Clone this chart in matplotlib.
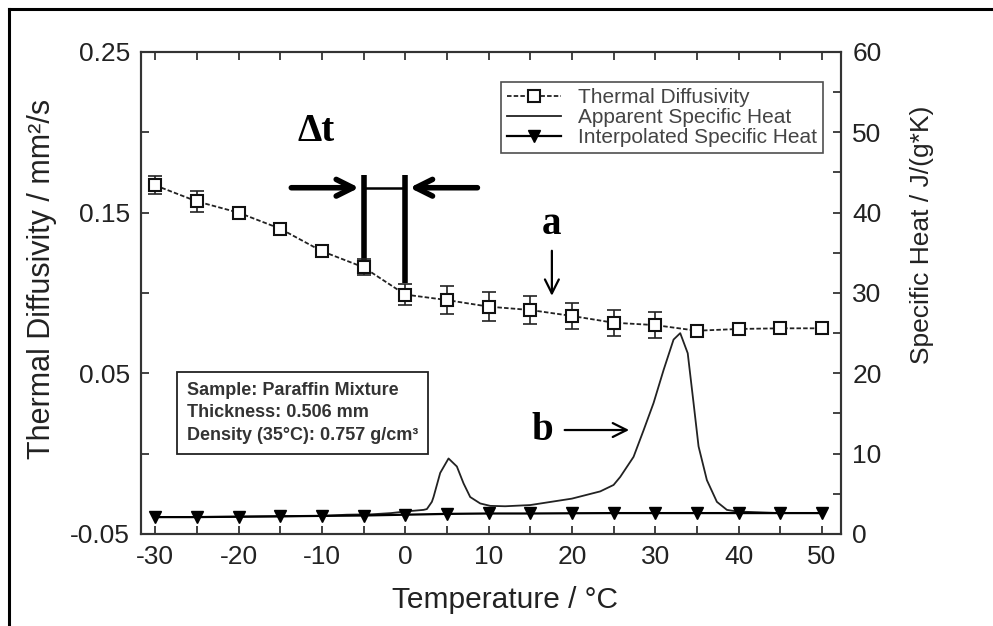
import numpy as np
import matplotlib
matplotlib.use("Agg")
import matplotlib.pyplot as plt
from matplotlib.lines import Line2D

plt.rcParams['font.family'] = ['Liberation Sans', 'DejaVu Sans']

# thermal diffusivity (left axis), mm^2/s
temp = [-30, -25, -20, -15, -10, -5, 0, 5, 10, 15, 20, 25, 30, 35, 40, 45, 50]
diffusivity = [0.167, 0.157, 0.150, 0.140, 0.126, 0.116, 0.099, 0.0956, 0.0915,
               0.0894, 0.0857, 0.0815, 0.080, 0.0765, 0.0776, 0.078, 0.078]
diff_err = [0.0057, 0.0065, 0.002, 0.002, 0.002, 0.005, 0.0065, 0.009, 0.009,
            0.009, 0.008, 0.008, 0.008, 0.0, 0.0, 0.0, 0.0]

# interpolated specific heat (right axis), J/(g*K)
interp_cp = [2.1, 2.1, 2.15, 2.2, 2.25, 2.3, 2.4, 2.5, 2.55, 2.55, 2.58, 2.6,
             2.6, 2.6, 2.6, 2.6, 2.6]

# apparent specific heat from DSC
dsc_t = [-30, -20, -10, -7, -4, -1.7, 0, 2.2, 2.6, 3.2, 3.4, 4.2, 5.2, 6.2, 7.0,
         7.8, 9.0, 10.2, 12, 15, 20, 23.4, 25.0, 25.8, 27.4, 28.6, 29.8, 31.0,
         32.2, 33.0, 33.9, 34.6, 35.2, 36.2, 37.4, 38.6, 39.8, 45, 50]
dsc_cp = [2.1, 2.15, 2.25, 2.4, 2.45, 2.6, 2.8, 3.0, 3.1, 4.0, 4.6, 7.6, 9.4, 8.4,
          6.3, 4.6, 3.8, 3.5, 3.45, 3.6, 4.4, 5.3, 6.1, 7.1, 9.6, 12.9, 16.3, 20.4,
          24.2, 25.0, 22.5, 16.3, 10.9, 6.7, 4.0, 3.0, 2.8, 2.6, 2.6]

fig = plt.figure(figsize=(9.93, 6.26), dpi=100)
ax = fig.add_axes([0.142, 0.147, 0.705, 0.770])
ax2 = ax.twinx()

# left axis: diffusivity
ax.errorbar(temp, diffusivity, yerr=diff_err, fmt='none', ecolor='#222222',
            elinewidth=1.2, capsize=5, capthick=1.2, zorder=3)
l1, = ax.plot(temp, diffusivity, linestyle=(0, (2.5, 1.2)), color='#222222', lw=1.3,
              marker='s', markersize=8.5, markerfacecolor='white',
              markeredgecolor='#111111', markeredgewidth=1.5, zorder=4)

# right axis: specific heat
l2, = ax2.plot(dsc_t, dsc_cp, color='#222222', lw=1.3, zorder=2)
l3, = ax2.plot(temp, interp_cp, color='black', lw=1.6, marker='v', markersize=9,
               markerfacecolor='black', markeredgecolor='black', zorder=3)

ax.set_xlim(-31.7, 52.3)
ax.set_ylim(-0.05, 0.25)
ax2.set_ylim(0, 60)

ax.set_xticks(np.arange(-30, 51, 5))
ax.set_xticklabels([str(v) if v % 10 == 0 else '' for v in range(-30, 51, 5)])
yt = [-0.05, 0.0, 0.05, 0.10, 0.15, 0.20, 0.25]
ax.set_yticks(yt)
ax.set_yticklabels(['-0.05', '', '0.05', '', '0.15', '', '0.25'])
ax2.set_yticks(np.arange(0, 61, 10))
ax2.set_yticks(np.arange(0, 61, 5), minor=True)

ax.tick_params(axis='both', direction='in', length=6, width=1.2, labelsize=19,
               colors='#222222', top=True, pad=8)
ax2.tick_params(axis='y', which='both', direction='in', length=6, width=1.2,
                labelsize=19, colors='#222222', pad=8)
for a in (ax, ax2):
    for s in a.spines.values():
        s.set_linewidth(1.5)
        s.set_color('#333333')

ax.set_xlabel('Temperature / °C', fontsize=21.5, color='#222222')
ax.xaxis.set_label_coords(0.52, -0.108)
ax.set_ylabel('Thermal Diffusivity / mm²/s', fontsize=22, color='#222222')
ax.yaxis.set_label_coords(-0.12, 0.53)
ax2.set_ylabel('Specific Heat / J/(g*K)', fontsize=19, color='#222222')
ax2.yaxis.set_label_coords(1.098, 0.62)

leg = ax.legend([l1, l2, l3], ['Thermal Diffusivity', 'Apparent Specific Heat',
                               'Interpolated Specific Heat'],
                loc='upper right', bbox_to_anchor=(0.974, 0.938), borderaxespad=0,
                fontsize=15, frameon=True, fancybox=False, edgecolor='#222222',
                handlelength=2.6, labelspacing=0.05, borderpad=0.3, handletextpad=0.8)
leg.get_frame().set_linewidth(1.2)
for t in leg.get_texts():
    t.set_color('#444444')

# sample information box
ax.text(-26.2, 0.0253, 'Sample: Paraffin Mixture\nThickness: 0.506 mm\nDensity (35°C): 0.757 g/cm³',
        fontsize=13, fontweight='bold', color='#333333', linespacing=1.45,
        ha='left', va='center',
        bbox=dict(boxstyle='square,pad=0.55', facecolor='white', edgecolor='#222222', lw=1.3))

# delta t markers
ax.text(-10.7, 0.2008, 'Δt', fontsize=28, fontweight='bold', family='Liberation Serif',
        ha='center', va='center')
ax.plot([-5, -5], [0.1187, 0.1734], color='black', lw=4, solid_capstyle='butt')
ax.plot([0, 0], [0.1062, 0.1734], color='black', lw=4, solid_capstyle='butt')
ax.plot([-5, 0], [0.1655, 0.1655], color='black', lw=1.8)
ax.annotate('', xy=(-5.2, 0.1655), xytext=(-14.0, 0.1655),
            arrowprops=dict(arrowstyle='->,head_length=1.2,head_width=0.6', lw=4, color='black'))
ax.annotate('', xy=(0.2, 0.1655), xytext=(9.0, 0.1655),
            arrowprops=dict(arrowstyle='->,head_length=1.2,head_width=0.6', lw=4, color='black'))

# a / b labels
ax.text(17.5, 0.1425, 'a', fontsize=28, fontweight='bold', family='Liberation Serif',
        ha='center', va='center')
ax.annotate('', xy=(17.6, 0.0965), xytext=(17.6, 0.128),
            arrowprops=dict(arrowstyle='->,head_length=1.0,head_width=0.5', lw=1.6, color='black'))
ax.text(16.4, 0.0145, 'b', fontsize=28, fontweight='bold', family='Liberation Serif',
        ha='center', va='center')
ax.annotate('', xy=(27.2, 0.0147), xytext=(18.8, 0.0147),
            arrowprops=dict(arrowstyle='->,head_length=1.0,head_width=0.5', lw=1.6, color='black'))

# outer frame lines
fig.add_artist(Line2D([0.009, 1.0], [0.985, 0.985], color='black', lw=2.2))
fig.add_artist(Line2D([0.009, 0.009], [0.0, 0.985], color='black', lw=2.2))

fig.savefig('out.png', dpi=100)
